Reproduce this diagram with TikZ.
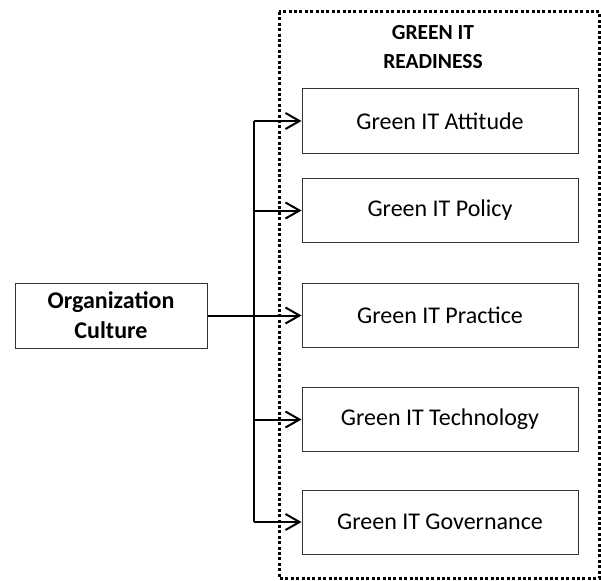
\documentclass[tikz,border=0pt]{standalone}
\usepackage{fontspec}
\setmainfont{Carlito}
\usetikzlibrary{arrows.meta}
\begin{document}
\begin{tikzpicture}[x=1pt,y=-1pt,
  box/.style={draw=black!80,line width=1pt,minimum width=276pt,minimum height=64pt,inner sep=0pt,font=\fontsize{24}{29}\selectfont},
  conn/.style={line width=2pt,-{Straight Barb[length=14pt,width=16pt,line width=2pt]}},
  link/.style={line width=2pt}]
\useasboundingbox (0,0) rectangle (601,580);
\draw[line width=3pt,dash pattern=on 3pt off 2.4pt] (279,12) rectangle (599.5,578);
\node[font=\bfseries\fontsize{21.5}{29}\selectfont,align=center] (title) at (433,47) {GREEN IT\\READINESS};
\node[box,minimum width=192pt,minimum height=65pt,font=\bfseries\fontsize{24}{30}\selectfont,align=center] (org) at (111,315.5) {Organization\\Culture};
\node[box] (att) at (440,121) {Green IT Attitude};
\node[box] (pol) at (440,210.5) {Green IT Policy};
\node[box] (pra) at (440,315.5) {Green IT Practice};
\node[box] (tec) at (440,419.5) {Green IT Technology};
\node[box] (gov) at (440,522) {Green IT Governance};
\coordinate (top) at (254,121);
\coordinate (bot) at (254,522);
\draw[link] (top) -- (bot);
\draw[conn] (org.east) -- (pra.west);
\draw[conn] (top) -- (att.west);
\draw[conn] (top |- pol.west) -- (pol.west);
\draw[conn] (top |- tec.west) -- (tec.west);
\draw[conn] (bot) -- (gov.west);
\end{tikzpicture}
\end{document}
